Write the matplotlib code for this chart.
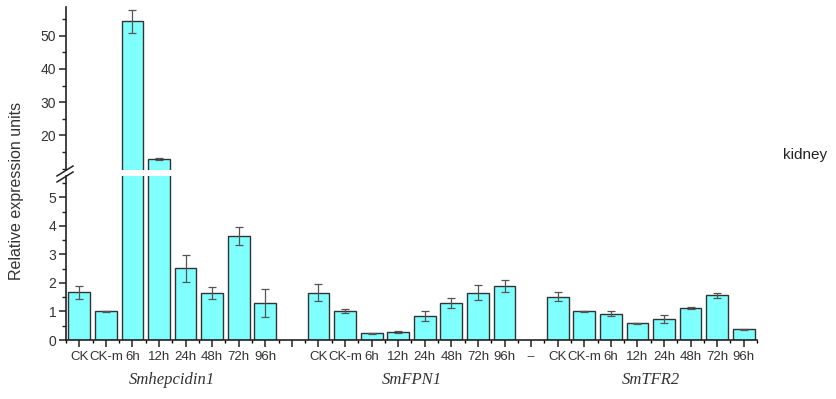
import numpy as np
import matplotlib.pyplot as plt
from matplotlib.ticker import MultipleLocator

plt.rcParams['font.family'] = ['Liberation Sans', 'DejaVu Sans']

times = ['CK', 'CK-m', '6h', '12h', '24h', '48h', '72h', '96h']
genes = ['Smhepcidin1', 'SmFPN1', 'SmTFR2']

hepc = [1.68, 1.00, 54.3, 13.0, 2.52, 1.65, 3.65, 1.30]
hepc_err = [0.23, 0.03, 3.4, 0.30, 0.47, 0.22, 0.31, 0.50]
fpn = [1.65, 1.00, 0.24, 0.28, 0.84, 1.30, 1.66, 1.91]
fpn_err = [0.30, 0.07, 0.02, 0.05, 0.17, 0.18, 0.27, 0.21]
tfr = [1.51, 1.00, 0.92, 0.58, 0.73, 1.12, 1.57, 0.37]
tfr_err = [0.16, 0.02, 0.09, 0.01, 0.15, 0.02, 0.08, 0.01]

# slot layout: 8 bars, gap, 8 bars, "--", 8 bars
starts = [0, 9, 18]
values = hepc + fpn + tfr
errors = hepc_err + fpn_err + tfr_err
xpos = np.concatenate([np.arange(s, s + 8) for s in starts])

ticklabels = times + [''] + times + ['--'] + times

fig = plt.figure(figsize=(8.37, 3.99), dpi=100)
L, R = 66 / 837, 757 / 837
ax_lo = fig.add_axes([L, 1 - 340 / 399, R - L, (340 - 176) / 399])
ax_hi = fig.add_axes([L, 1 - 170 / 399, R - L, (170 - 7) / 399], sharex=ax_lo)

for ax in (ax_lo, ax_hi):
    ax.bar(xpos, values, width=0.82, color='#80ffff', edgecolor='#333333',
           linewidth=1.0, zorder=2)
    ax.errorbar(xpos, values, yerr=errors, fmt='none', ecolor='#555555',
                elinewidth=0.9, capsize=3, capthick=0.9, zorder=3)
    ax.spines['top'].set_visible(False)
    ax.spines['right'].set_visible(False)
    ax.spines['left'].set_linewidth(1.2)
    ax.spines['left'].set_color('#222222')
    ax.tick_params(axis='y', direction='out', length=5, width=1.1,
                   labelsize=10, colors='#222222', labelcolor='#333333', pad=2)
    ax.tick_params(axis='y', which='minor', direction='out', length=3, width=1.0,
                   colors='#222222')

ax_lo.set_ylim(0, 5.75)
ax_lo.yaxis.set_major_locator(MultipleLocator(1))
ax_lo.yaxis.set_minor_locator(MultipleLocator(0.5))
ax_lo.spines['bottom'].set_linewidth(1.2)
ax_lo.spines['bottom'].set_color('#222222')

ax_hi.set_ylim(9.6, 58.6)
ax_hi.set_yticks([20, 30, 40, 50])
ax_hi.yaxis.set_minor_locator(MultipleLocator(5))
ax_hi.spines['bottom'].set_visible(False)
ax_hi.tick_params(axis='x', which='both', bottom=False, labelbottom=False)

ax_lo.set_xlim(-0.5, 25.5)
ax_lo.set_xticks(np.arange(26))
ax_lo.set_xticklabels(ticklabels)
ax_lo.set_xticks(np.arange(-0.5, 26, 1), minor=True)
ax_lo.tick_params(axis='x', direction='out', length=5, width=1.1, labelsize=9.5,
                  colors='#222222', labelcolor='#333333', pad=3)
ax_lo.tick_params(axis='x', which='minor', direction='out', length=2.5, width=1.0)

# break marks on the y axis
for dy in (0, 6):
    fig.lines.append(plt.Line2D([57 / 837, 73 / 837],
                                [1 - (176 + dy) / 399, 1 - (166 + dy) / 399],
                                transform=fig.transFigure, color='#222222', lw=1.1))

for s, g in zip(starts, genes):
    ax_lo.text(s + 3.5, -0.245, g, transform=ax_lo.get_xaxis_transform(),
               ha='center', va='center', fontsize=12, style='italic',
               family='Liberation Serif', color='#333333')

fig.text(17 / 837, 1 - 191 / 399, 'Relative expression units', rotation=90,
         ha='center', va='center', fontsize=11.5, color='#333333')
fig.text(783 / 837, 1 - 155 / 399, 'kidney', ha='left', va='center',
         fontsize=11, color='#222222')

fig.savefig('out.png', dpi=100)
